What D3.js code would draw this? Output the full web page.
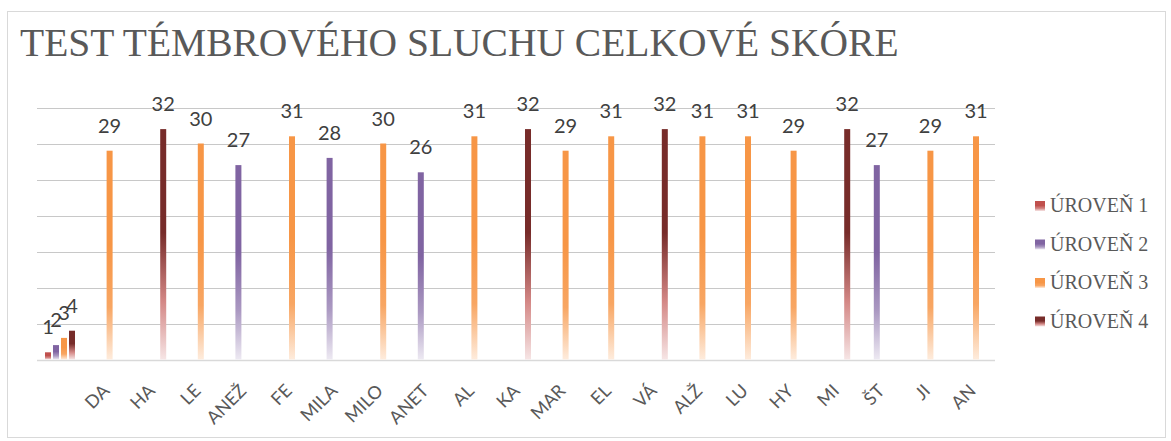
<!DOCTYPE html>
<html>
<head>
    <meta charset="utf-8">
    <title>Test témbrového sluchu</title>
    <script src="https://d3js.org/d3.v7.min.js"></script>
    <style>
        body { margin: 0; background: #ffffff; }
    </style>
</head>
<body>
    <svg width="1171" height="441"></svg>
    <script>
        // data, one non-empty value per child
        const categories = ["", "DA", "HA", "LE", "ANEŽ", "FE", "MILA", "MILO", "ANET", "AL", "KA",
            "MAR", "EL", "VÁ", "ALŽ", "LU", "HY", "MI", "ŠT", "JI", "AN"];
        const n = null;
        const level1 = [1, n, n, n, n, n, n, n, n, n, n, n, n, n, n, n, n, n, n, n, n];
        const level2 = [2, n, n, n, 27, n, 28, n, 26, n, n, n, n, n, n, n, n, n, 27, n, n];
        const level3 = [3, 29, n, 30, n, 31, n, 30, n, 31, n, 29, 31, n, 31, 31, 29, n, n, 29, 31];
        const level4 = [4, n, 32, n, n, n, n, n, n, n, 32, n, n, 32, n, n, n, 32, n, n, n];
        const seriesNames = ["ÚROVEŇ 1", "ÚROVEŇ 2", "ÚROVEŇ 3", "ÚROVEŇ 4"];
        const seriesColors = ["#c0504d", "#8064a2", "#f79646", "#772c2a"];
        const yTicks = [0, 5, 10, 15, 20, 25, 30, 35];
        const series = [level1, level2, level3, level4];

        const svg = d3.select("svg");

        // chart frame
        svg.append("rect")
            .attr("x", 7.5).attr("y", 11.5)
            .attr("width", 1158).attr("height", 426)
            .attr("fill", "#ffffff")
            .attr("stroke", "#d9d9d9");

        // gradients: solid on top, lightening (in HSL) toward the baseline
        const lighten = (c, l) => { const h = d3.hsl(c); h.l = l; return h.formatHex(); };
        const defs = svg.append("defs");
        seriesColors.forEach((c, i) => {
            const g = defs.append("linearGradient")
                .attr("id", "grad" + i)
                .attr("x1", 0).attr("y1", 0).attr("x2", 0).attr("y2", 1);
            g.append("stop").attr("offset", "0%").attr("stop-color", c);
            g.append("stop").attr("offset", "45%").attr("stop-color", c);
            g.append("stop").attr("offset", "75%").attr("stop-color", lighten(c, Math.max(d3.hsl(c).l, 0.68)));
            g.append("stop").attr("offset", "100%").attr("stop-color", lighten(c, 0.93));
        });

        const x0 = d3.scaleBand()
            .domain(categories.map((d, i) => i))
            .range([37.2, 994.8])
            .paddingInner(0.298)
            .paddingOuter(0.149);

        const x1 = d3.scaleBand()
            .domain(d3.range(series.length))
            .range([0, x0.bandwidth()])
            .paddingInner(0.25)
            .paddingOuter(0.125);

        const y = d3.scaleLinear()
            .domain([0, 35])
            .range([359.5, 107.5]);

        // gridlines
        svg.append("g")
            .selectAll("line")
            .data(yTicks)
            .join("line")
            .attr("x1", 37).attr("x2", 995)
            .attr("y1", d => Math.round(y(d)) + 0.5)
            .attr("y2", d => Math.round(y(d)) + 0.5)
            .attr("stroke", d => d === 0 ? "#d9d9d9" : "#c8c8c8")
            .attr("stroke-width", d => d === 0 ? 1.5 : 1);

        // flatten to bar records
        const bars = [];
        series.forEach((vals, s) => {
            vals.forEach((v, i) => {
                if (v !== null) bars.push({ cat: i, s: s, v: v });
            });
        });

        svg.append("g")
            .selectAll("rect")
            .data(bars)
            .join("rect")
            .attr("x", d => x0(d.cat) + x1(d.s))
            .attr("y", d => y(d.v))
            .attr("width", x1.bandwidth())
            .attr("height", d => y(0) - y(d.v))
            .attr("fill", d => "url(#grad" + d.s + ")");

        // value labels
        svg.append("g")
            .selectAll("text")
            .data(bars)
            .join("text")
            .attr("x", d => x0(d.cat) + x1(d.s) + x1.bandwidth() / 2)
            .attr("y", d => y(d.v) - 18)
            .attr("text-anchor", "middle")
            .attr("font-family", "Lato, 'Open Sans', sans-serif")
            .attr("font-size", 20)
            .attr("fill", "#404040")
            .text(d => d.v);

        // category labels, rotated
        svg.append("g")
            .selectAll("text")
            .data(categories.map((c, i) => ({ c: c, i: i })).filter(d => d.c !== ""))
            .join("text")
            .attr("transform", d => `translate(${x0(d.i) + x0.bandwidth() / 2 + 5},392) rotate(-45)`)
            .attr("text-anchor", "end")
            .attr("font-family", "Lato, 'Open Sans', sans-serif")
            .attr("font-size", 18)
            .attr("fill", "#595959")
            .text(d => d.c);

        // title
        svg.append("text")
            .attr("x", 20).attr("y", 56)
            .attr("font-family", "'Liberation Serif', 'Times New Roman', serif")
            .attr("font-size", 39.5)
            .attr("fill", "#595959")
            .text("TEST TÉMBROVÉHO SLUCHU CELKOVÉ SKÓRE");

        // legend
        const legend = svg.append("g")
            .selectAll("g")
            .data(seriesNames)
            .join("g")
            .attr("transform", (d, i) => `translate(1035,${212 + i * 38.5})`);
        legend.append("rect")
            .attr("x", 0).attr("y", -11)
            .attr("width", 10).attr("height", 10)
            .attr("fill", (d, i) => "url(#grad" + i + ")");
        legend.append("text")
            .attr("x", 15).attr("y", 0)
            .attr("font-family", "'Liberation Serif', 'Times New Roman', serif")
            .attr("font-size", 20)
            .attr("fill", "#595959")
            .text(d => d);
    </script>
</body>
</html>
